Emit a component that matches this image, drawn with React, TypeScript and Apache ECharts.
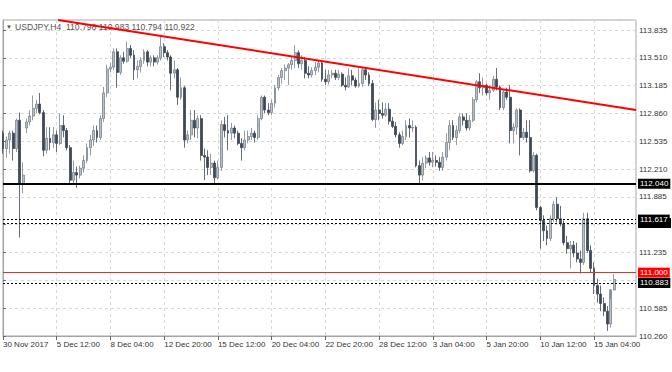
import React, { useEffect, useRef } from "react";
import * as echarts from "echarts";

const symbolName = "USDJPY,H4";

// tick labels every 16 H4 bars
const xTickLabels = [
  "30 Nov 2017", "5 Dec 12:00", "8 Dec 04:00", "12 Dec 20:00", "15 Dec 12:00", "20 Dec 04:00",
  "22 Dec 20:00", "28 Dec 12:00", "3 Jan 04:00", "5 Jan 20:00", "10 Jan 12:00", "15 Jan 04:00",
];
const xTickStep = 16;

const opens = [
  112.63, 112.45, 112.55, 112.63, 112.45, 112.78, 112.04, 112.69, 112.76, 112.83,
  112.92, 112.97, 112.87, 112.43, 112.57, 112.52, 112.61, 112.51, 112.72, 112.66,
  112.46, 112.08, 112.17, 112.14, 112.22, 112.31, 112.46, 112.55, 112.66, 112.58,
  112.80, 113.10, 113.38, 113.40, 113.58, 113.34, 113.51, 113.47, 113.62, 113.54,
  113.37, 113.41, 113.48, 113.58, 113.46, 113.51, 113.46, 113.51, 113.64, 113.57,
  113.52, 113.33, 113.37, 113.05, 113.16, 112.55, 112.61, 112.78, 112.69, 112.80,
  112.37, 112.35, 112.23, 112.28, 112.11, 112.23, 112.73, 112.66, 112.63, 112.69,
  112.63, 112.51, 112.46, 112.55, 112.59, 112.63, 112.58, 112.80, 113.05, 112.90,
  112.87, 112.98, 113.16, 113.28, 113.36, 113.39, 113.43, 113.48, 113.57, 113.44,
  113.48, 113.33, 113.31, 113.36, 113.40, 113.45, 113.26, 113.23, 113.31, 113.33,
  113.28, 113.32, 113.19, 113.17, 113.30, 113.25, 113.18, 113.21, 113.37, 113.31,
  113.21, 112.79, 112.90, 112.86, 112.84, 112.91, 112.77, 112.71, 112.61, 112.51,
  112.59, 112.72, 112.69, 112.70, 112.25, 112.14, 112.28, 112.34, 112.29, 112.31,
  112.29, 112.23, 112.35, 112.52, 112.72, 112.58, 112.66, 112.82, 112.78, 112.69,
  112.78, 113.02, 113.23, 113.16, 113.19, 113.10, 113.13, 113.26, 113.17, 112.93,
  113.11, 113.05, 112.66, 112.70, 112.90, 112.58, 112.64, 112.58, 112.19, 112.37,
  111.76, 111.61, 111.49, 111.40, 111.63, 111.80, 111.63, 111.57, 111.35, 111.28,
  111.32, 111.23, 111.16, 111.12, 111.63, 111.26, 111.05, 110.85, 110.75, 110.64,
  110.55, 110.40, 110.798,
];
const highs = [
  112.66, 112.59, 112.66, 112.66, 112.80, 112.87, 112.29, 112.80, 112.90, 113.07,
  113.02, 113.10, 112.90, 112.70, 112.70, 112.70, 112.66, 112.86, 112.84, 112.69,
  112.49, 112.31, 112.24, 112.25, 112.37, 112.51, 112.61, 112.72, 112.72, 112.84,
  113.17, 113.43, 113.45, 113.62, 113.62, 113.54, 113.58, 113.70, 113.66, 113.60,
  113.48, 113.52, 113.61, 113.60, 113.54, 113.54, 113.54, 113.78, 113.68, 113.60,
  113.54, 113.48, 113.39, 113.28, 113.18, 112.66, 112.90, 112.90, 112.84, 112.84,
  112.45, 112.43, 112.39, 112.31, 112.31, 112.78, 112.82, 112.84, 112.75, 112.72,
  112.66, 112.57, 112.66, 112.66, 112.69, 112.66, 112.84, 113.07, 113.07, 112.98,
  113.02, 113.19, 113.31, 113.39, 113.43, 113.45, 113.52, 113.66, 113.60, 113.54,
  113.52, 113.41, 113.40, 113.46, 113.48, 113.48, 113.37, 113.37, 113.37, 113.37,
  113.37, 113.34, 113.28, 113.39, 113.37, 113.28, 113.39, 113.40, 113.39, 113.34,
  113.25, 112.99, 113.02, 112.99, 112.98, 112.98, 112.82, 112.76, 112.64, 112.66,
  112.78, 112.80, 112.78, 112.72, 112.31, 112.35, 112.37, 112.41, 112.41, 112.37,
  112.35, 112.41, 112.63, 112.78, 112.78, 112.72, 112.86, 112.86, 112.86, 112.84,
  113.05, 113.25, 113.33, 113.28, 113.21, 113.19, 113.30, 113.39, 113.19, 113.13,
  113.16, 113.19, 112.75, 112.92, 112.92, 112.69, 112.78, 112.78, 112.41, 112.39,
  111.78, 111.67, 111.55, 111.67, 111.84, 111.88, 111.78, 111.61, 111.43, 111.37,
  111.37, 111.35, 111.26, 111.70, 111.70, 111.32, 111.12, 110.93, 110.85, 110.71,
  110.61, 110.69, 110.983,
];
const lows = [
  112.39, 112.34, 112.39, 112.31, 112.41, 111.41, 111.93, 112.63, 112.72, 112.78,
  112.86, 112.85, 112.36, 112.39, 112.43, 112.46, 112.41, 112.49, 112.58, 112.43,
  112.04, 112.04, 111.99, 112.10, 112.17, 112.28, 112.37, 112.48, 112.52, 112.55,
  112.76, 113.05, 113.34, 113.37, 113.16, 113.31, 113.44, 113.45, 113.51, 113.25,
  113.27, 113.34, 113.44, 113.41, 113.41, 113.41, 113.43, 113.48, 113.52, 113.48,
  113.13, 113.27, 112.96, 113.02, 112.46, 112.51, 112.55, 112.58, 112.57, 112.31,
  112.08, 112.14, 112.14, 112.04, 112.09, 112.19, 112.58, 112.43, 112.55, 112.57,
  112.49, 112.31, 112.43, 112.51, 112.55, 112.52, 112.55, 112.78, 112.86, 112.84,
  112.84, 112.93, 113.13, 113.21, 113.25, 113.19, 113.37, 113.39, 113.39, 113.37,
  113.27, 113.27, 113.28, 113.31, 113.34, 113.23, 113.19, 113.20, 113.27, 113.25,
  113.25, 113.17, 113.13, 113.16, 113.19, 113.16, 113.16, 113.17, 113.25, 113.18,
  112.77, 112.69, 112.78, 112.80, 112.82, 112.73, 112.69, 112.58, 112.46, 112.49,
  112.55, 112.58, 112.64, 112.23, 112.04, 112.08, 112.22, 112.25, 112.23, 112.24,
  112.19, 112.19, 112.31, 112.43, 112.55, 112.49, 112.63, 112.72, 112.66, 112.66,
  112.76, 112.99, 113.10, 113.07, 113.07, 113.02, 113.11, 113.13, 112.90, 112.90,
  113.02, 112.51, 112.51, 112.61, 112.37, 112.55, 112.52, 112.17, 112.17, 111.73,
  111.28, 111.37, 111.32, 111.37, 111.59, 111.59, 111.54, 111.32, 111.22, 111.05,
  111.18, 111.12, 110.99, 111.09, 111.23, 111.00, 110.75, 110.65, 110.55, 110.49,
  110.32, 110.36, 110.794,
];
const closes = [
  112.45, 112.55, 112.63, 112.45, 112.78, 112.04, 112.14, 112.76, 112.83, 112.92,
  112.97, 112.87, 112.43, 112.57, 112.52, 112.61, 112.51, 112.72, 112.66, 112.46,
  112.08, 112.17, 112.14, 112.22, 112.31, 112.46, 112.55, 112.66, 112.58, 112.80,
  113.10, 113.38, 113.40, 113.58, 113.34, 113.51, 113.47, 113.62, 113.54, 113.37,
  113.41, 113.48, 113.58, 113.46, 113.51, 113.46, 113.51, 113.64, 113.57, 113.52,
  113.33, 113.37, 113.05, 113.16, 112.55, 112.61, 112.78, 112.69, 112.80, 112.37,
  112.35, 112.23, 112.28, 112.11, 112.23, 112.73, 112.66, 112.63, 112.69, 112.63,
  112.51, 112.46, 112.55, 112.59, 112.63, 112.58, 112.80, 113.05, 112.90, 112.87,
  112.98, 113.16, 113.28, 113.36, 113.39, 113.43, 113.48, 113.57, 113.44, 113.48,
  113.33, 113.31, 113.36, 113.40, 113.45, 113.26, 113.23, 113.31, 113.33, 113.28,
  113.32, 113.19, 113.17, 113.30, 113.25, 113.18, 113.21, 113.37, 113.31, 113.21,
  112.79, 112.90, 112.86, 112.84, 112.91, 112.77, 112.71, 112.61, 112.51, 112.59,
  112.72, 112.69, 112.70, 112.25, 112.14, 112.28, 112.34, 112.29, 112.31, 112.29,
  112.23, 112.35, 112.52, 112.72, 112.58, 112.66, 112.82, 112.78, 112.69, 112.78,
  113.02, 113.23, 113.16, 113.19, 113.10, 113.13, 113.26, 113.17, 112.93, 113.11,
  113.05, 112.66, 112.70, 112.90, 112.58, 112.64, 112.58, 112.19, 112.37, 111.76,
  111.61, 111.49, 111.40, 111.63, 111.80, 111.63, 111.57, 111.35, 111.28, 111.32,
  111.23, 111.16, 111.12, 111.63, 111.26, 111.05, 110.85, 110.75, 110.64, 110.55,
  110.40, 110.80, 110.922,
];

// price axis
const priceMin = 110.26;
const priceMax = 113.952;
const priceStep = 0.325;
const barsInView = 188.5;

// horizontal levels
const supportLevel = 112.04;
const hiddenDottedLevel = 111.585; // drawn under the 111.617 label
const dottedLevels = [111.617, 110.883];
const redLevel = 111.0;
const labelledLevels = [supportLevel, hiddenDottedLevel, ...dottedLevels, redLevel];
// descending trendline anchors [bar index, price]
const trendStart = [16.4, 113.952];
const trendEnd = [188.5, 112.9];

const FONT = "'Liberation Sans', Arial, sans-serif";

export default function App() {
  const ref = useRef<HTMLDivElement>(null);

  useEffect(() => {
    if (!ref.current) return;
    const chart = echarts.init(ref.current, null, { renderer: "svg" });

    const candles = opens.map((o, i) => [i, o, closes[i], lows[i], highs[i]]);
    const last = opens.length - 1;
    const headerValues = [opens[last], highs[last], lows[last], closes[last]]
      .map((v) => v.toFixed(3))
      .join(" ");

    const boxLabel = (level: number, bg: string) => ({
      show: true,
      position: "end" as const,
      distance: 2,
      formatter: () => level.toFixed(3),
      backgroundColor: bg,
      color: "#fff",
      fontSize: 8,
      fontFamily: FONT,
      padding: [1, 2, 1, 2],
    });

    const dotted = dottedLevels.map((v) => ({
      yAxis: v,
      lineStyle: { color: "#000", width: 1, type: [2, 2] },
      label: boxLabel(v, "#000"),
    }));

    const option: any = {
      animation: false,
      backgroundColor: "#ffffff",
      textStyle: { fontFamily: FONT },
      grid: {
        left: 2,
        right: 36,
        top: 20,
        bottom: 36,
        show: true,
        borderColor: "#a4a4a4",
        borderWidth: 1,
      },
      graphic: [
        {
          type: "text",
          left: 6,
          top: 24,
          style: { text: "▼", fontSize: 6, fill: "#555", fontFamily: FONT },
        },
        {
          type: "text",
          left: 15,
          top: 22,
          style: {
            text: symbolName + "  " + headerValues,
            fontSize: 8.6,
            fill: "#555",
            fontFamily: FONT,
          },
        },
      ],
      xAxis: {
        type: "value",
        min: 0,
        max: barsInView,
        interval: xTickStep,
        axisLine: { show: true, lineStyle: { color: "#a4a4a4" } },
        axisTick: { show: true, length: 4, lineStyle: { color: "#666" } },
        axisLabel: {
          formatter: (v: number) => xTickLabels[Math.round(v / xTickStep)] ?? "",
          align: "left",
          fontSize: 8,
          color: "#333",
          margin: 4,
          showMaxLabel: false,
          fontFamily: FONT,
        },
        splitLine: { show: true, lineStyle: { color: "#d8d8d8", type: [3, 3], width: 1 } },
      },
      yAxis: {
        type: "value",
        position: "right",
        min: priceMin,
        max: priceMax,
        interval: priceStep,
        axisLine: { show: true, lineStyle: { color: "#a4a4a4" } },
        axisTick: { show: true, length: 3, lineStyle: { color: "#666" } },
        axisLabel: {
          // tick labels sitting under a level box are covered in the reference
          formatter: (v: number) =>
            labelledLevels.some((l) => Math.abs(l - v) < 0.06) ? "" : v.toFixed(3),
          fontSize: 8,
          color: "#333",
          margin: 3,
          showMaxLabel: false,
          fontFamily: FONT,
        },
        splitLine: { show: true, lineStyle: { color: "#d8d8d8", type: [3, 3], width: 1 } },
      },
      series: [
        {
          type: "candlestick",
          data: candles,
          barWidth: 2.4,
          itemStyle: {
            color: "#b8c0c8",
            color0: "#3d4855",
            borderColor: "#7a838d",
            borderColor0: "#3d4855",
            borderWidth: 0.8,
          },
          markLine: {
            silent: true,
            symbol: ["none", "none"],
            animation: false,
            data: [
              {
                yAxis: supportLevel,
                lineStyle: { color: "#000", width: 2, type: "solid" },
                label: boxLabel(supportLevel, "#000"),
              },
              {
                yAxis: hiddenDottedLevel,
                lineStyle: { color: "#000", width: 1, type: [2, 2] },
                label: {
                  show: true,
                  position: "end",
                  distance: 2,
                  formatter: "{b|}",
                  rich: { b: { width: 33, height: 10, backgroundColor: "#000" } },
                },
              },
              ...dotted,
              {
                yAxis: redLevel,
                lineStyle: { color: "#e53030", width: 1, type: "solid" },
                label: boxLabel(redLevel, "#ff0000"),
              },
              [
                {
                  coord: trendStart,
                  lineStyle: { color: "#ff0000", width: 2, type: "solid" },
                  label: { show: false },
                },
                { coord: trendEnd },
              ],
            ],
          },
        },
      ],
    };

    chart.setOption(option);
    return () => chart.dispose();
  }, []);

  return (
    <div
      ref={ref}
      style={{ position: "fixed", left: 0, top: 0, width: 672, height: 372, background: "#fff" }}
    />
  );
}
